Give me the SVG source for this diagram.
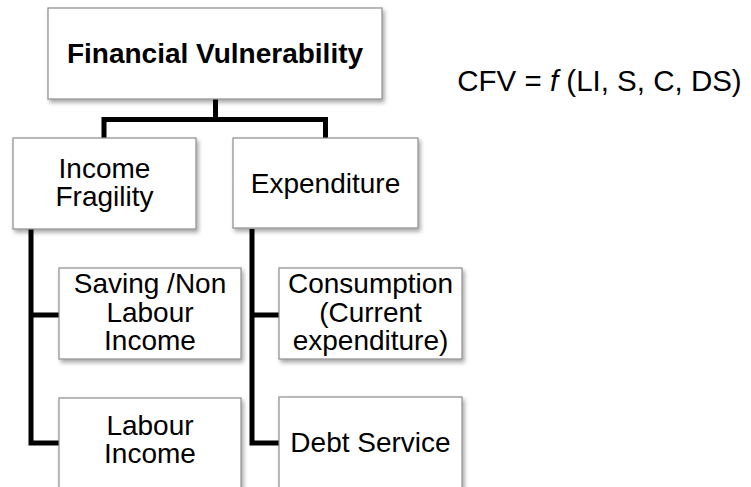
<svg xmlns="http://www.w3.org/2000/svg" width="751" height="487" viewBox="0 0 751 487">
<defs>
<filter id="sh" x="-10%" y="-10%" width="130%" height="140%">
<feDropShadow dx="2" dy="3" stdDeviation="2" flood-color="#000" flood-opacity="0.35"/>
</filter>
<style>
.box{fill:#fff;stroke:#8c8c8c;stroke-width:1.2;filter:url(#sh)}
.t{font-family:"Liberation Sans",Arial,sans-serif;font-size:28px;fill:#000;text-anchor:middle}
.b{font-weight:bold;font-size:28px}
.f{font-size:29.5px}
.c{fill:none;stroke:#000;stroke-width:5;stroke-linejoin:miter;stroke-linecap:butt}
</style>
</defs>
<rect width="751" height="487" fill="#fff"/>
<g id="connectors">
<path class="c" d="M215.5,99 V119.5 M104,138 V119.5 H325.5 V138"/>
<path class="c" d="M31,229 V443 H59 M31,315 H59"/>
<path class="c" d="M252,229 V443 H279 M252,315 H279"/>
</g>
<g id="financial-vulnerability">
<rect class="box" x="48" y="8" width="334" height="91"/>
<text class="t b" x="215" y="63">Financial Vulnerability</text>
</g>
<g id="income-fragility">
<rect class="box" x="13" y="138" width="183" height="91"/>
<text class="t" x="104.5" y="178">Income</text>
<text class="t" x="104.5" y="206">Fragility</text>
</g>
<g id="expenditure">
<rect class="box" x="233" y="138" width="185" height="90"/>
<text class="t" x="325.5" y="193">Expenditure</text>
</g>
<g id="saving">
<rect class="box" x="59" y="268" width="182" height="91"/>
<text class="t" x="150" y="293">Saving /Non</text>
<text class="t" x="150" y="322">Labour</text>
<text class="t" x="150" y="350">Income</text>
</g>
<g id="consumption">
<rect class="box" x="279" y="268" width="183" height="91"/>
<text class="t" x="370.5" y="293">Consumption</text>
<text class="t" x="370.5" y="322">(Current</text>
<text class="t" x="370.5" y="350">expenditure)</text>
</g>
<g id="labour-income">
<rect class="box" x="59" y="398" width="182" height="110"/>
<text class="t" x="150" y="435">Labour</text>
<text class="t" x="150" y="463">Income</text>
</g>
<g id="debt-service">
<rect class="box" x="279" y="397" width="183" height="111"/>
<text class="t" x="370.5" y="452">Debt Service</text>
</g>
<g id="formula">
<text class="t f" x="599.5" y="91">CFV = <tspan font-style="italic">f</tspan> (LI, S, C, DS)</text>
</g>
</svg>
